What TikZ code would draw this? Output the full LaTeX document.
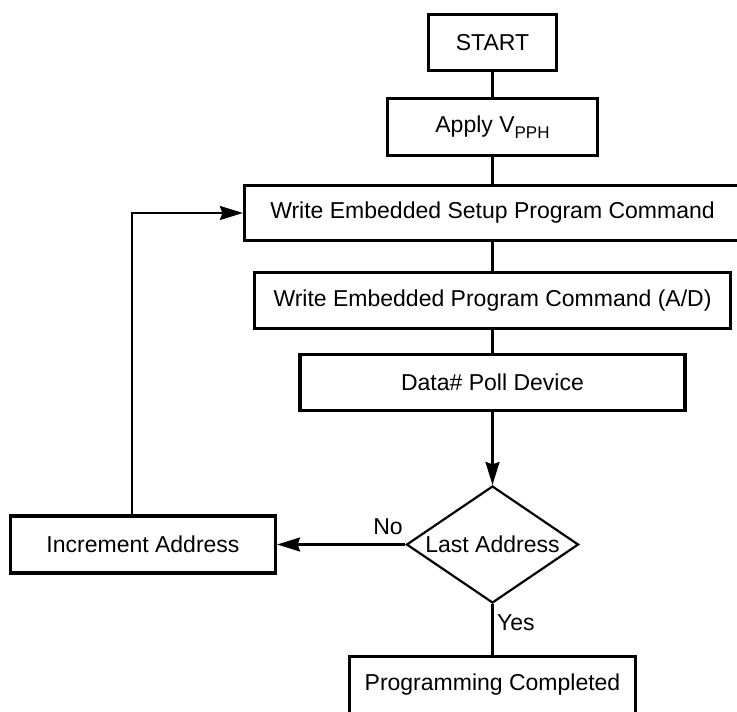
\documentclass[tikz,border=0pt]{standalone}
\usepackage{fontspec}
\setmainfont{Liberation Sans}
\usetikzlibrary{shapes.geometric,arrows.meta}
\begin{document}
\begin{tikzpicture}[x=1pt,y=-1pt,
  font=\fontsize{23}{27}\selectfont,
  box/.style={draw, line width=3.2pt, inner sep=0pt, align=center},
  dec/.style={draw, diamond, line width=2.2pt, inner sep=0pt, aspect=1.46, minimum width=172pt, minimum height=117pt},
  conn/.style={line width=2.2pt},
  arr/.style={line width=2.2pt, -{Stealth[length=23pt,width=14pt,inset=2.5pt]}},
  lbl/.style={inner sep=0pt}]
\useasboundingbox (0,0) rectangle (737,712);
\clip (0,0) rectangle (737,712);
\node[box, minimum width=128pt, minimum height=56pt] (start) at (492.5,42.5) {START};
\node[box, minimum width=210pt, minimum height=57pt] (apply) at (492.5,127) {Apply V\raisebox{-6pt}{\fontsize{17}{17}\selectfont PPH}};
\node[box, minimum width=496pt, minimum height=55pt] (setup) at (492.5,213) {Write Embedded Setup Program Command};
\node[box, minimum width=476pt, minimum height=56pt] (ad) at (492.5,300.5) {Write Embedded Program Command (A/D)};
\node[box, minimum width=385pt, minimum height=56pt] (poll) at (492.5,382.5) {Data\# Poll Device};
\node[dec] (dec) at (492.5,544.5) {Last Address};
\node[box, minimum width=265pt, minimum height=57pt] (inc) at (143,544.5) {Increment Address};
\node[box, minimum width=286pt, minimum height=57pt] (prog) at (492.5,685) {Programming Completed};
\node[lbl] (no) at (388,527) {No};
\node[lbl, anchor=west] (yes) at (497,623) {Yes};
\draw[conn] (start) -- (apply);
\draw[conn] (apply) -- (setup);
\draw[conn] (setup) -- (ad);
\draw[conn] (ad) -- (poll);
\draw[arr] (poll) -- (dec);
\draw[arr] (dec.west) -- (inc.east);
\draw[conn] (dec) -- (prog);
\draw[arr] ([xshift=-11pt]inc.north) |- (setup.west);
\end{tikzpicture}
\end{document}
